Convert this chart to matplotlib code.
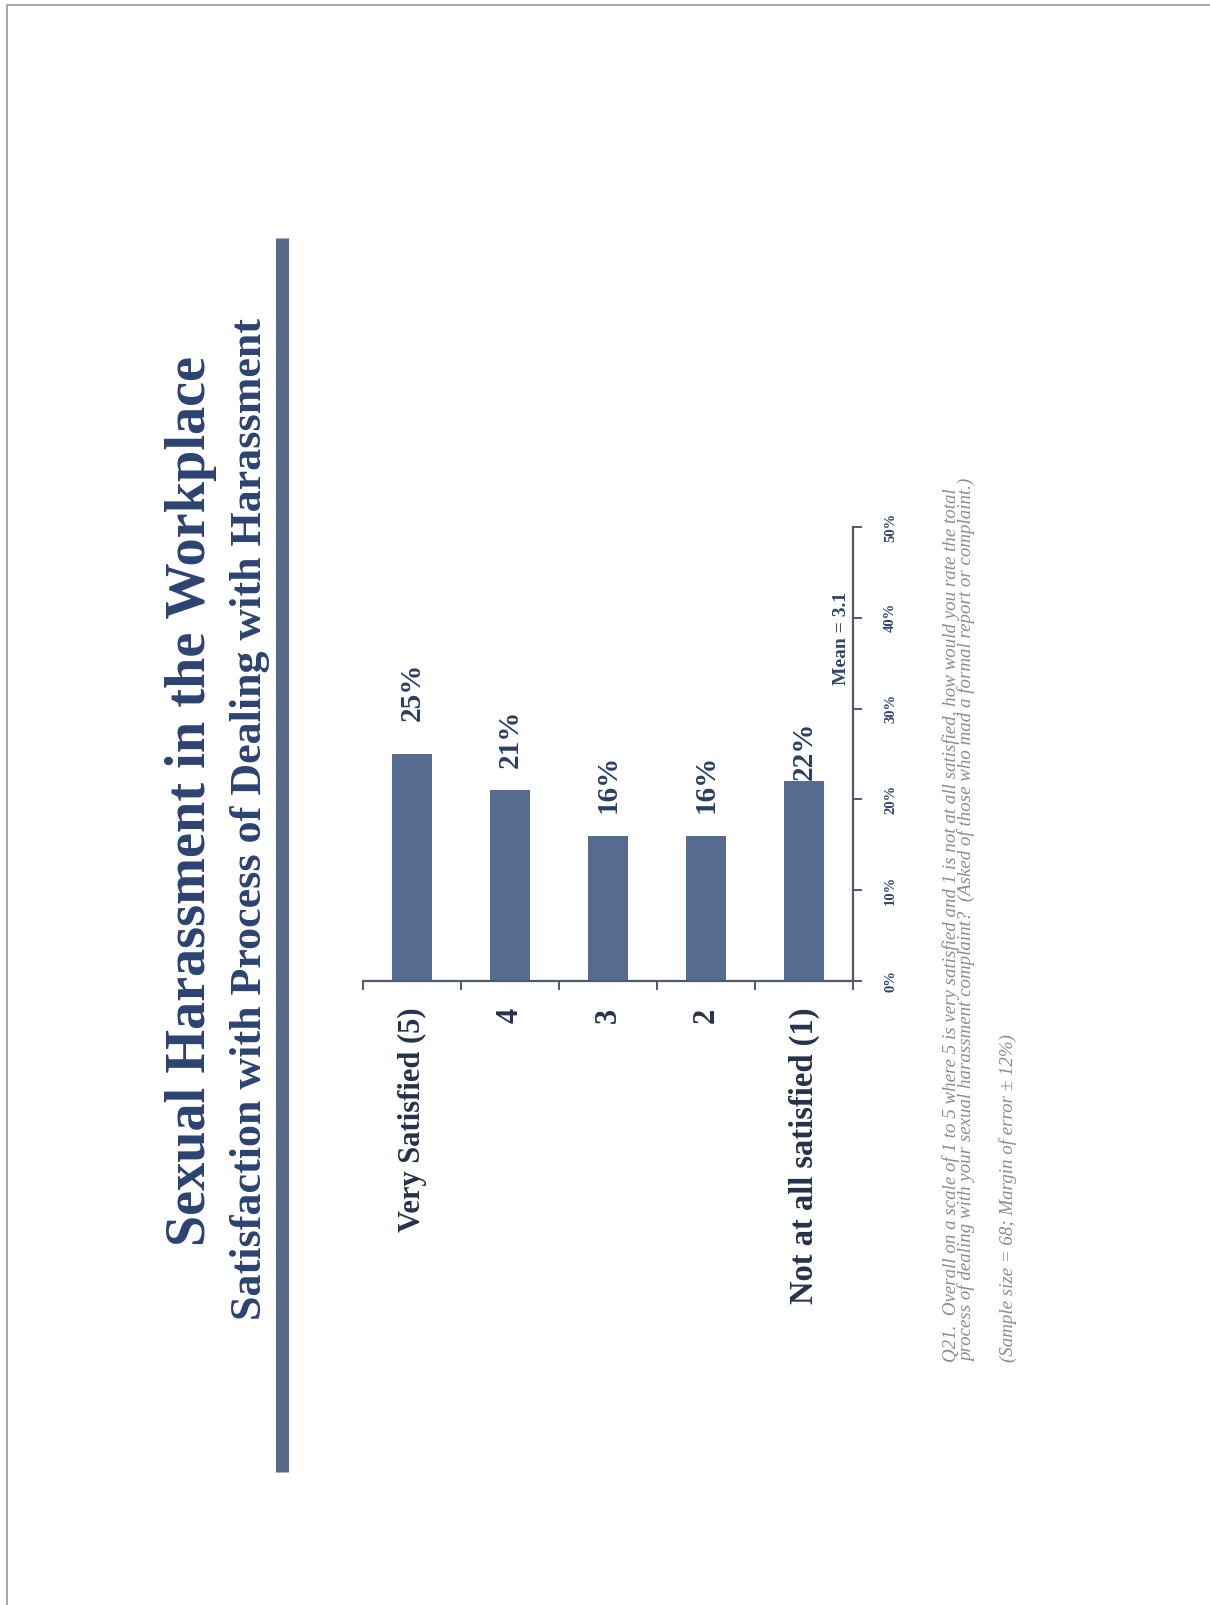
import matplotlib
matplotlib.use("Agg")
import matplotlib.pyplot as plt
from matplotlib.lines import Line2D
from matplotlib.ticker import FixedLocator, PercentFormatter

# ---------------- data ----------------
categories = ["Very Satisfied (5)", "4", "3", "2", "Not at all satisfied (1)"]
values = [25, 21, 16, 16, 22]
value_labels = ["25%", "21%", "16%", "16%", "22%"]
value_ticks = [0, 10, 20, 30, 40, 50]
title = "Sexual Harassment in the Workplace"
subtitle = "Satisfaction with Process of Dealing with Harassment"
mean_note = "Mean = 3.1"
foot_line1 = ("Q21.  Overall on a scale of 1 to 5 where 5 is very satisfied and 1 is not at all "
              "satisfied, how would you rate the total")
foot_line2 = ("process of dealing with your sexual harassment complaint?  (Asked of those who mad "
              "a formal report or complaint.)")
foot_line3 = "(Sample size = 68; Margin of error \u00b1 12%)"

# ---------------- style ----------------
W, H = 1210, 1605
BAR = "#566B8D"
TXT = "#30466C"
GREY = "#8C8C8C"
SERIF = ["Liberation Serif", "DejaVu Serif"]

fig = plt.figure(figsize=(W / 100, H / 100), dpi=100)
fig.patch.set_facecolor("white")


def fx(x):
    return x / W


def fy(y):
    return 1 - y / H


# axes region (pixels): x 363..853, y 527..981
ax = fig.add_axes([fx(363), fy(981), (853 - 363) / W, (981 - 527) / H])
xs = list(range(len(categories)))
ax.bar(xs, values, width=0.41, color=BAR, edgecolor="none", zorder=2)
ax.set_xlim(-0.5, len(categories) - 0.5)
ax.set_ylim(0, 50)

for s in ["top", "left"]:
    ax.spines[s].set_visible(False)
for s in ["bottom", "right"]:
    ax.spines[s].set_color("#505A6E")
    ax.spines[s].set_linewidth(1.6)

# value axis on the right
ax.yaxis.tick_right()
ax.yaxis.set_major_locator(FixedLocator(value_ticks))
ax.yaxis.set_major_formatter(PercentFormatter(decimals=0))
ax.tick_params(axis="y", which="major", direction="out", length=6.5, width=1.4,
               color="#505A6E", pad=16, left=False, labelleft=False)
for lab in ax.get_yticklabels():
    lab.set_rotation(90)
    lab.set_fontfamily(SERIF)
    lab.set_fontweight("bold")
    lab.set_fontsize(10.5)
    lab.set_color(TXT)
    lab.set_va("center")

# category axis
ax.set_xticks(xs)
ax.set_xticklabels(categories, rotation=90, fontfamily=SERIF, fontweight="bold",
                   fontsize=22, color="#26314A")
ax.get_xticklabels()[-1].set_fontsize(23.5)
ax.set_xticks([x - 0.5 for x in xs] + [xs[-1] + 0.5], minor=True)
ax.tick_params(axis="x", which="major", length=0, pad=19)
ax.tick_params(axis="x", which="minor", direction="out", length=6.5, width=1.4,
               color="#505A6E")

# value labels
pads = [24, 16, 16, 16, 1]
for x, v, lab, p in zip(xs, values, value_labels, pads):
    ax.annotate(lab, (x, v), xytext=(0, p), textcoords="offset points",
                rotation=90, ha="center", va="bottom", fontfamily=SERIF,
                fontweight="bold", fontsize=21, color="#2A3F63")

# mean note
fig.text(fx(841), fy(638), mean_note, rotation=90, ha="center", va="center",
         fontfamily=SERIF, fontweight="bold", fontsize=14, color=TXT)

# titles
fig.text(fx(191), fy(801), title, rotation=90, ha="center", va="center",
         fontfamily=SERIF, fontweight="bold", fontsize=40.5, color="#2C4270")
fig.text(fx(250), fy(819), subtitle, rotation=90, ha="center", va="center",
         fontfamily=SERIF, fontweight="bold", fontsize=31.7, color="#2C4270")

# thick rule
fig.add_artist(Line2D([fx(282), fx(282)], [fy(238), fy(1472)], color="#56698A",
                      linewidth=9.4, solid_capstyle="butt"))

# footnotes
for xpix, txt in [(951, foot_line1), (967, foot_line2), (1008, foot_line3)]:
    fig.text(fx(xpix), fy(1362), txt, rotation=90, rotation_mode="anchor",
             ha="left", va="center", fontfamily=SERIF, fontstyle="italic",
             fontsize=13.6, color=GREY)

# page border
fig.add_artist(Line2D([fx(7), fx(1210)], [fy(5), fy(5)], color="#AAAAAA", linewidth=1.5))
fig.add_artist(Line2D([fx(7), fx(7)], [fy(5), fy(1605)], color="#AAAAAA", linewidth=1.5))

fig.savefig("out.png", dpi=100, facecolor="white")
